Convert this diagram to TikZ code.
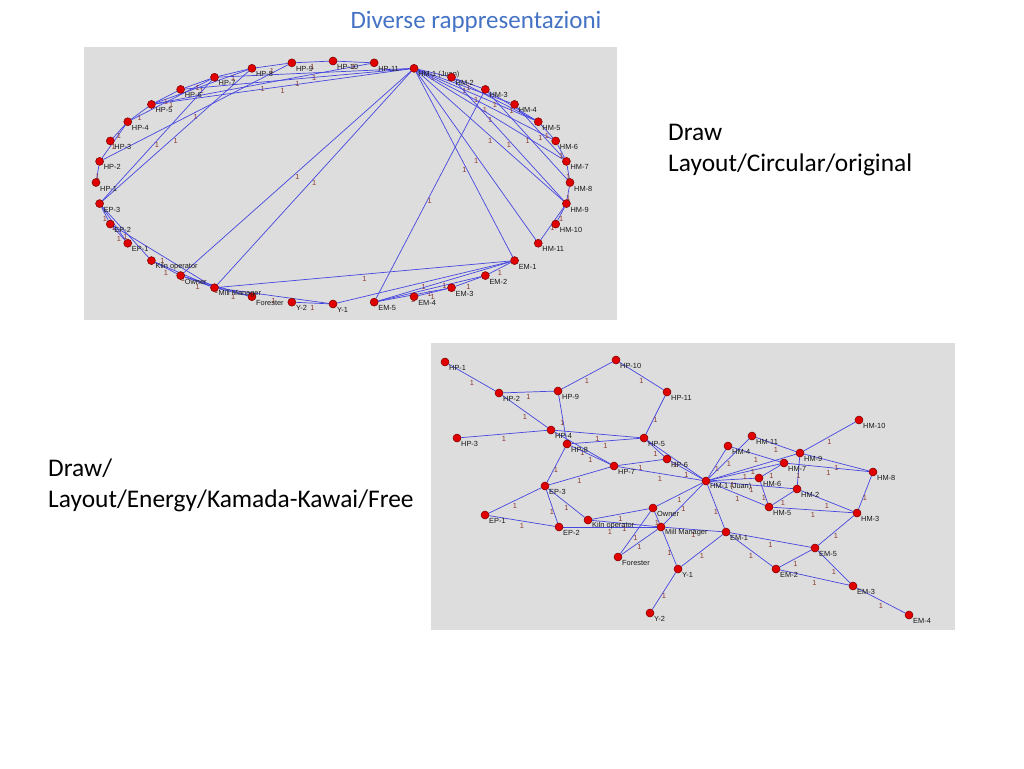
\documentclass[tikz,border=0pt]{standalone}
\usepackage{fontspec}
\setmainfont{Carlito}
\newfontfamily\lblfont{Liberation Sans}
\definecolor{panelbg}{RGB}{221,221,221}
\definecolor{edgeblue}{RGB}{70,70,225}
\definecolor{onecol}{RGB}{140,60,50}
\definecolor{vtxred}{RGB}{225,0,0}
\definecolor{vtxdark}{RGB}{120,0,0}
\definecolor{titleblue}{RGB}{68,114,196}
\pgfdeclarelayer{bg}
\pgfdeclarelayer{edges}
\pgfsetlayers{bg,edges,main}
\begin{document}
\begin{tikzpicture}[x=1pt,y=-1pt,
  vtx/.style={circle,fill=vtxred,draw=vtxdark,line width=0.5pt,inner sep=0pt,minimum size=8pt},
  lbl/.style={anchor=west,font=\lblfont\fontsize{7.4}{8}\selectfont,text=black!90,inner sep=0pt},
  edge/.style={draw=edgeblue,line width=0.7pt},
  one/.style={font=\lblfont\fontsize{7.4}{8}\selectfont,text=onecol,inner sep=0pt,yshift=-5pt},
  panel/.style={fill=panelbg,draw=none},
  side/.style={anchor=west,align=left,font=\fontsize{25.4}{31}\selectfont,inner sep=0pt}]
\useasboundingbox (0,0) rectangle (1024,768);

% titles and captions
\node[font=\fontsize{25}{30}\selectfont,text=titleblue,inner sep=0pt] (title) at (476,22) {Diverse rappresentazioni};
\node[side] (cap1) at (668,150.5) {Draw\\Layout/Circular/original};
\node[side] (cap2) at (48,485.5) {Draw/\\Layout/Energy/Kamada-Kawai/Free};

% panels
\begin{pgfonlayer}{bg}
\fill[panel] (84,47) rectangle (617,320);
\fill[panel] (431,343) rectangle (955,630);
\end{pgfonlayer}

% panel 1 : circular layout
\foreach \k/\a/\t in {HP10/90/HP-10, HP11/80/HP-11, HM1/70/{HM-1 (Juan)}, HM2/60/HM-2, HM3/50/HM-3,
  HM4/40/HM-4, HM5/30/HM-5, HM6/20/HM-6, HM7/10/HM-7, HM8/0/HM-8, HM9/-10/HM-9, HM10/-20/HM-10,
  HM11/-30/HM-11, EM1/-40/EM-1, EM2/-50/EM-2, EM3/-60/EM-3, EM4/-70/EM-4, EM5/-80/EM-5,
  Y1/-90/Y-1, Y2/-100/Y-2, FO/-110/Forester, MM/-120/Mill Manager, OW/-130/Owner,
  KO/-140/Kiln operator, EP1/-150/EP-1, EP2/-160/EP-2, EP3/-170/EP-3, HP1/180/HP-1,
  HP2/170/HP-2, HP3/160/HP-3, HP4/150/HP-4, HP5/140/HP-5, HP6/130/HP-6, HP7/120/HP-7,
  HP8/110/HP-8, HP9/100/HP-9}
{
  \node[vtx] (a\k) at ({333+237*cos(\a)},{182.5-121.5*sin(\a)}) {};
  \node[lbl] (al\k) at ([shift={(4,6)}]a\k.center) {\t};
}

% panel 2 : Kamada-Kawai layout
\foreach \k/\x/\y/\t in {HP1/445/362/HP-1, HP2/499/393/HP-2, HP3/457/438/HP-3, HP4/551/430/HP-4,
  HP5/644/438/HP-5, HP6/667/459/HP-6, HP7/614/466/HP-7, HP8/567/444/HP-8, HP9/558/391/HP-9,
  HP10/616/360/HP-10, HP11/667/392/HP-11, EP1/485/515/EP-1, EP2/559/527/EP-2, EP3/545/486/EP-3,
  KO/588/520/Kiln operator, OW/653/508/Owner, MM/661/527/Mill Manager, FO/618/557/Forester,
  Y1/678/569/Y-1, Y2/650/613/Y-2, HM1/706/481/{HM-1 (Juan)}, HM2/797/489/HM-2, HM3/857/513/HM-3,
  HM4/728/446/HM-4, HM5/769/507/HM-5, HM6/759/478/HM-6, HM7/784/463/HM-7, HM8/873/472/HM-8,
  HM9/800/453/HM-9, HM10/859/420/HM-10, HM11/752/436/HM-11, EM1/726/532/EM-1, EM2/776/569/EM-2,
  EM3/853/586/EM-3, EM4/909/615/EM-4, EM5/815/548/EM-5}
{
  \node[vtx] (b\k) at (\x,\y) {};
  \node[lbl] (bl\k) at ([shift={(4,6)}]b\k.center) {\t};
}

% edges (same graph in both panels)
\begin{pgfonlayer}{edges}
\foreach \p in {a,b}{
  \foreach \u/\v in {HP1/HP2, HP2/HP9, HP9/HP10, HP10/HP11, HP2/HP4, HP9/HP8, HP3/HP4, HP11/HP5,
    HP4/HP5, HP8/HP5, HP4/HP7, HP8/HP7, HP8/EP3, HP5/HP6, HP5/HM1, HP6/HP7, HP7/HM1, HP6/HM1,
    HP7/EP3, EP1/EP3, EP1/EP2, EP3/EP2, EP3/KO, EP2/MM, KO/MM, KO/OW, OW/FO, OW/MM, MM/FO,
    MM/Y1, Y1/Y2, Y1/EM1, MM/EM1, OW/HM1, MM/HM1, HM1/EM1, HM1/HM2, HM1/HM4, HM1/HM5, HM1/HM6,
    HM1/HM7, HM1/HM9, HM1/HM11, HM4/HM7, HM11/HM9, HM9/HM10, HM9/HM8, HM7/HM8, HM9/HM2,
    HM6/HM5, HM6/HM7, HM5/HM2, HM5/HM3, HM2/HM3, HM3/HM8, HM3/EM5, EM1/EM5, EM1/EM2, EM2/EM5,
    EM2/EM3, EM5/EM3, EM3/EM4}
  {
    \draw[edge] (\p\u) -- (\p\v) node[midway,one] {1};
  }
}
\end{pgfonlayer}
\end{tikzpicture}
\end{document}
